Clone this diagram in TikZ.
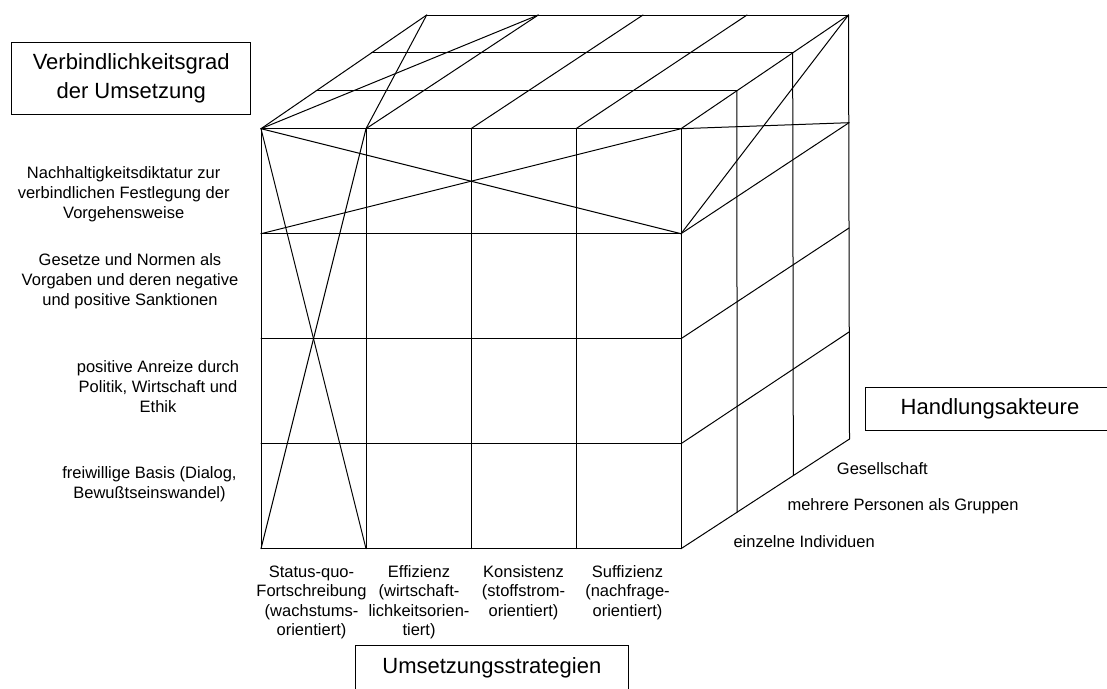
\documentclass[tikz,border=0pt]{standalone}
\usepackage{fontspec}
\setmainfont{Liberation Sans}
\usetikzlibrary{calc}
\begin{document}
\begin{tikzpicture}[x=1pt,y=-1pt,
  edge/.style={line width=1pt, line cap=round, line join=round},
  axisbox/.style={draw, line width=1pt, inner sep=0pt, align=center,
    font=\fontsize{22}{29}\selectfont},
  rowlabel/.style={align=center, inner sep=0pt, anchor=north,
    font=\fontsize{16.5}{20}\selectfont},
  collabel/.style={align=center, inner sep=0pt, anchor=north,
    font=\fontsize{16.5}{19.5}\selectfont},
  depthlabel/.style={inner sep=0pt, anchor=base west,
    font=\fontsize{16.5}{20}\selectfont}]
\useasboundingbox (0,0) rectangle (1107,688);

% front face: 4 x 4 grid of points F<col><row>
\foreach \i/\x in {0/261,1/366,2/471,3/576,4/681}
  \foreach \j/\y in {0/128.7,1/233.7,2/338.7,3/443.7,4/548.7}
    \coordinate (F\i\j) at (\x,\y);

% back edge of the top face
\coordinate (B0) at (426.7,15);
\coordinate (B1) at (538.3,15);
\coordinate (B2) at (643,15);
\coordinate (B3) at (747,15);
\coordinate (B4) at (848.5,15);

% back edge of the right face
\coordinate (R0) at (848.5,15);
\coordinate (R1) at (849,122.7);
\coordinate (R2) at (849,228);
\coordinate (R3) at (849,332);
\coordinate (R4) at (849.5,439);

% depth layers (three actor groups)
\coordinate (TL1) at ($(F00)!1/3!(B0)$);
\coordinate (TL2) at ($(F00)!2/3!(B0)$);
\coordinate (TR1) at ($(F40)!1/3!(B4)$);
\coordinate (TR2) at ($(F40)!2/3!(B4)$);
\coordinate (BR1) at ($(F44)!1/3!(R4)$);
\coordinate (BR2) at ($(F44)!2/3!(R4)$);

% front face grid
\foreach \i in {0,...,4} \draw[edge] (F\i0) -- (F\i4);
\foreach \j in {0,...,4} \draw[edge] (F0\j) -- (F4\j);

% top face
\foreach \i in {0,...,4} \draw[edge] (F\i0) -- (B\i);
\draw[edge] (B0) -- (B4);
\draw[edge] (TL1) -- (TR1);
\draw[edge] (TL2) -- (TR2);

% right face
\foreach \j in {1,...,4} \draw[edge] (F4\j) -- (R\j);
\draw[edge] (R0) -- (R4);
\draw[edge] (TR1) -- (BR1);
\draw[edge] (TR2) -- (BR2);

% crossed-out slices: top row and first column
\draw[edge] (F00) -- (F41);
\draw[edge] (F01) -- (F40);
\draw[edge] (F00) -- (F14);
\draw[edge] (F10) -- (F04);
\draw[edge] (F00) -- (B1);
\draw[edge] (F10) -- (B0);
\draw[edge] (F40) -- (R1);
\draw[edge] (F41) -- (R0);

% axis titles
\node[axisbox, minimum width=239pt, minimum height=71.7pt] (verbTitle)
  at (131.2,78.15) {Verbindlichkeitsgrad\\der Umsetzung};
\node[axisbox, minimum width=248.6pt, minimum height=43.4pt] (actTitle)
  at (990,409) {Handlungsakteure};
\node[axisbox, minimum width=273.7pt, minimum height=45.2pt] (stratTitle)
  at (491.85,667.6) {Umsetzungsstrategien};

% levels of obligation
\node[rowlabel] (lvlA) at (123.7,164)
  {\strut Nachhaltigkeitsdiktatur zur\\verbindlichen Festlegung der\\Vorgehensweise};
\node[rowlabel] (lvlB) at (130,251)
  {\strut Gesetze und Normen als\\Vorgaben und deren negative\\und positive Sanktionen};
\node[rowlabel] (lvlC) at (158,358.6)
  {\strut positive Anreize durch\\Politik, Wirtschaft und\\Ethik};
\node[rowlabel] (lvlD) at (149.5,464)
  {\strut freiwillige Basis (Dialog,\\Bewußtseinswandel)};

% strategies
\node[collabel] (colA) at (311.5,563.5)
  {\strut Status-quo-\\Fortschreibung\\(wachstums-\\orientiert)};
\node[collabel] (colB) at (419,563.5)
  {\strut Effizienz\\(wirtschaft-\\lichkeitsorien-\\tiert)};
\node[collabel] (colC) at (523.5,563.5)
  {\strut Konsistenz\\(stoffstrom-\\orientiert)};
\node[collabel] (colD) at (627.5,563.5)
  {\strut Suffizienz\\(nachfrage-\\orientiert)};

% actors
\node[depthlabel] (actC) at (836.7,474.8) {Gesellschaft};
\node[depthlabel] (actB) at (787.3,510.8) {mehrere Personen als Gruppen};
\node[depthlabel] (actA) at (733.3,547.4) {einzelne Individuen};
\end{tikzpicture}
\end{document}
